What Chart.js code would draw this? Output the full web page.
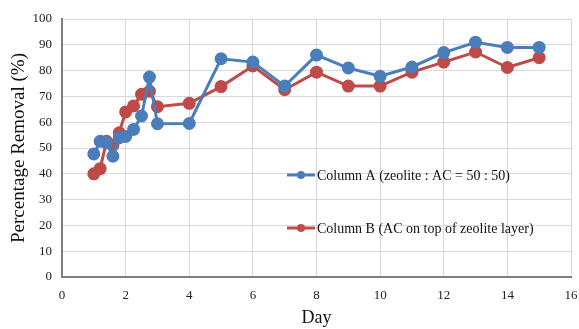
<!DOCTYPE html>
<html>
<head>
<meta charset="utf-8">
<script src="https://cdn.jsdelivr.net/npm/chart.js@4"></script>
<style>
  html, body { margin: 0; padding: 0; background: #fff; }
  #wrap { width: 579px; height: 329px; }
</style>
</head>
<body>
<div id="wrap"><canvas id="chart" width="579" height="329"></canvas></div>
<script>
// data
const days = [1, 1.2, 1.4, 1.6, 1.8, 2, 2.25, 2.5, 2.75, 3, 4, 5, 6, 7, 8, 9, 10, 11, 12, 13, 14, 15];
const columnA = [47.7, 52.6, 52, 46.8, 54, 54.5, 57.2, 62.4, 77.5, 59.4, 59.5, 84.6, 83.3, 74, 86, 81, 77.8, 81.4, 87, 91, 89, 89];
const columnB = [40, 42, 52.6, 51.1, 55.9, 64, 66.3, 70.8, 72, 66, 67.3, 73.8, 81.8, 72.6, 79.4, 74, 74, 79.4, 83.3, 87.2, 81.2, 85];
const labelA = "Column A (zeolite : AC = 50 : 50)";
const labelB = "Column B (AC on top of zeolite layer)";
const blue = "#4a7ebb";
const red = "#be4b48";
const serif = "'Liberation Serif', 'Times New Roman', serif";

const toPoints = (vals) => days.map((d, i) => ({ x: d, y: vals[i] }));

// legend sits inside the plot, drawn by hand
const innerLegend = {
  id: "innerLegend",
  afterDatasetsDraw(chart) {
    const ctx = chart.ctx;
    const items = [
      { text: labelA, color: blue, y: 175 },
      { text: labelB, color: red, y: 228 },
    ];
    ctx.save();
    items.forEach((it) => {
      ctx.strokeStyle = it.color;
      ctx.lineWidth = 3;
      ctx.beginPath();
      ctx.moveTo(287, it.y);
      ctx.lineTo(315, it.y);
      ctx.stroke();
      ctx.fillStyle = it.color;
      ctx.beginPath();
      ctx.arc(301, it.y, 4, 0, Math.PI * 2);
      ctx.fill();
      ctx.fillStyle = "#111";
      ctx.font = "14px " + serif;
      ctx.textBaseline = "middle";
      ctx.fillText(it.text, 317, it.y + 1);
    });
    ctx.restore();
  },
};

new Chart(document.getElementById("chart"), {
  type: "scatter",
  data: {
    datasets: [
      {
        label: labelA,
        data: toPoints(columnA),
        showLine: true,
        borderColor: blue,
        backgroundColor: blue,
        borderWidth: 3,
        pointRadius: 5,
        pointHoverRadius: 5,
      },
      {
        label: labelB,
        data: toPoints(columnB),
        showLine: true,
        borderColor: red,
        backgroundColor: red,
        borderWidth: 3,
        pointRadius: 5,
        pointHoverRadius: 5,
      },
    ],
  },
  options: {
    responsive: false,
    animation: false,
    layout: { padding: { top: 19, right: 8, left: 0, bottom: 0 } },
    plugins: {
      legend: { display: false },
      tooltip: { enabled: false },
    },
    scales: {
      x: {
        type: "linear",
        min: 0,
        max: 16,
        ticks: {
          stepSize: 2,
          color: "#222",
          padding: 11,
          font: { family: serif, size: 13 },
        },
        grid: { color: "#d9d9d9", drawTicks: false, lineWidth: 1 },
        border: { color: "#7f7f7f", width: 2 },
        title: {
          display: true,
          text: "Day",
          color: "#111",
          padding: { top: 5, bottom: 0 },
          font: { family: serif, size: 18 },
        },
        afterFit: (s) => {
          s.height = 52;
          s.paddingLeft = 0;
          s.paddingRight = 0;
        },
      },
      y: {
        min: 0,
        max: 100,
        ticks: {
          stepSize: 10,
          color: "#222",
          padding: 10,
          font: { family: serif, size: 13 },
        },
        grid: { color: "#d9d9d9", drawTicks: false, lineWidth: 1 },
        border: { color: "#7f7f7f", width: 2 },
        title: {
          display: true,
          text: "Percentage Removal (%)",
          color: "#111",
          padding: { top: 8, bottom: 0 },
          font: { family: serif, size: 19 },
        },
        afterFit: (s) => {
          s.width = 62;
          s.paddingTop = 0;
          s.paddingBottom = 0;
        },
      },
    },
  },
  plugins: [innerLegend],
});
</script>
</body>
</html>
